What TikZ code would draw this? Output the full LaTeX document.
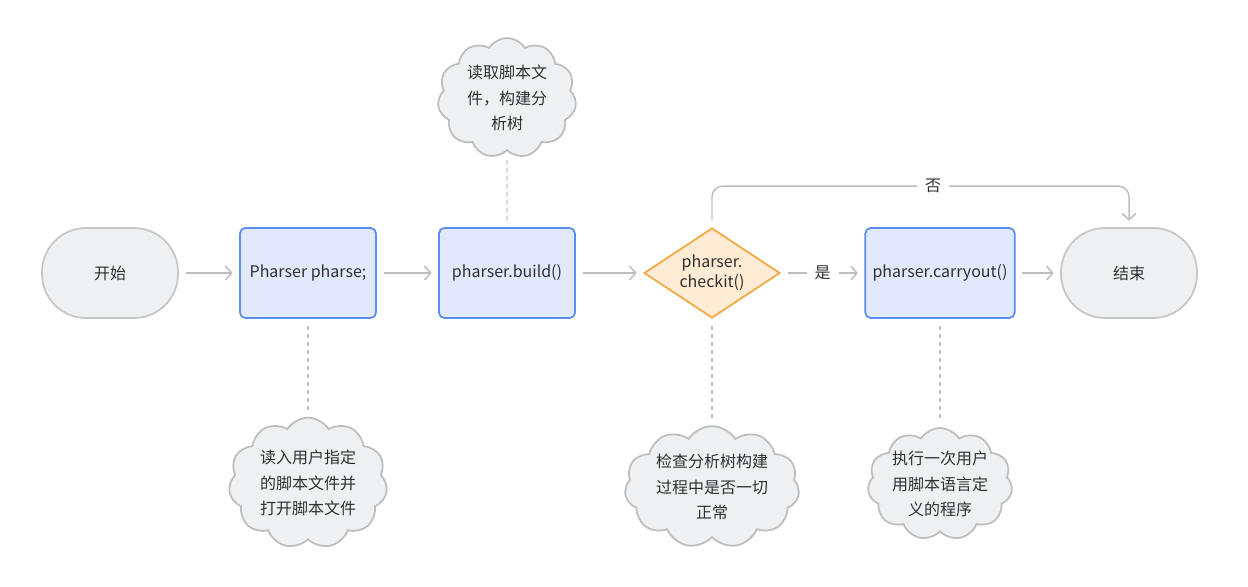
\documentclass[tikz,border=0pt]{standalone}
\usepackage{fontspec}
\setmainfont{Noto Sans CJK SC}
\usetikzlibrary{shapes.geometric,shapes.symbols,arrows.meta}
\definecolor{txtgray}{HTML}{303030}
\definecolor{linegray}{HTML}{BDBDBD}
\definecolor{termfill}{HTML}{EFF0F2}
\definecolor{termline}{HTML}{C6C6C6}
\definecolor{procfill}{HTML}{E3E9FC}
\definecolor{procline}{HTML}{5B8DEF}
\definecolor{decfill}{HTML}{FDEBD3}
\definecolor{decline}{HTML}{F4A742}
\tikzset{
  terminal/.style={draw=termline,fill=termfill,line width=1.3pt,rounded corners=33pt,
    minimum width=102pt,minimum height=67.5pt,text=txtgray},
  process/.style={draw=procline,fill=procfill,line width=1.3pt,rounded corners=4pt,
    minimum width=102pt,minimum height=67.5pt,text=txtgray},
  decision/.style={diamond,draw=decline,fill=decfill,line width=1.3pt,inner sep=0pt,
    minimum width=102pt,minimum height=67.5pt,aspect=1.5,align=center,text=txtgray},
  note/.style={cloud,cloud puffs=11,cloud puff arc=115,cloud ignores aspect,
    draw=linegray,fill=termfill,line width=1.3pt,align=center,text=txtgray,
    font=\fontsize{12}{19}\selectfont},
  flow/.style={draw=linegray,line width=1.1pt,-{Straight Barb[length=4.5pt,width=10pt,round]},
    shorten <=5pt,shorten >=5pt},
  link/.style={draw=linegray,line width=1.1pt,dash pattern=on 3pt off 3pt,
    shorten <=5pt,shorten >=5pt},
  lbl/.style={fill=white,text=txtgray,inner xsep=6pt}
}
\begin{document}
\begin{tikzpicture}[x=0.75pt,y=-0.75pt,font=\fontsize{12}{15}\selectfont]
  \useasboundingbox (0,0) rectangle (1248,586);
  % main row
  \node[terminal] (start) at (110,273) {开始};
  \node[process] (decl) at (308,273) {Pharser pharse;};
  \node[process] (build) at (507,273) {pharser.build()};
  \node[decision] (check) at (712,273) {pharser.\\checkit()};
  \node[process,minimum width=112pt] (run) at (940,273) {pharser.carryout()};
  \node[terminal] (stop) at (1129,273) {结束};
  % notes
  \node[note,minimum width=104pt,minimum height=90pt,inner sep=2pt] (n1) at (507,98) {读取脚本文\\件，构建分\\析树};
  \node[note,minimum width=117pt,minimum height=98pt] (n2) at (308,483) {读入用户指定\\的脚本文件并\\打开脚本文件};
  \node[note,minimum width=126pt,minimum height=88pt,inner sep=2pt] (n3) at (712,487) {检查分析树构建\\过程中是否一切\\正常};
  \node[note,minimum width=108pt,minimum height=84pt,inner sep=0pt] (n4) at (940,484) {执行一次用户\\用脚本语言定\\义的程序};
  % connectors
  \draw[flow] (start) -- (decl);
  \draw[flow] (decl) -- (build);
  \draw[flow] (build) -- (check);
  \draw[flow] (check) -- node[lbl] {是} (run);
  \draw[flow] (run) -- (stop);
  \draw[flow,rounded corners=8pt] (check.north) -- ++(0,-41) -| node[lbl,pos=0.265] {否} (stop.north);
  % dashed links
  \draw[link] (build) -- (n1);
  \draw[link] (decl) -- (n2);
  \draw[link] (check) -- (n3);
  \draw[link] (run) -- (n4);
\end{tikzpicture}
\end{document}
